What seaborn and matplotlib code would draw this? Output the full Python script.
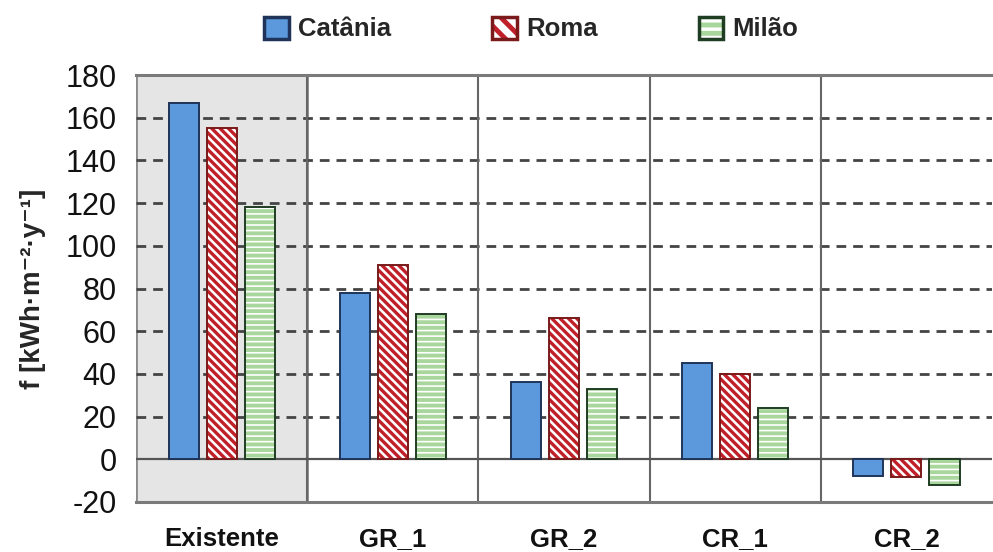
import numpy as np
import pandas as pd
import matplotlib
matplotlib.use("Agg")
import matplotlib.pyplot as plt
import matplotlib.colors as mcolors
from matplotlib.patches import Patch
import seaborn as sns

categories = ["Existente", "GR_1", "GR_2", "CR_1", "CR_2"]
series_names = ["Catânia", "Roma", "Milão"]
catania = [167, 78, 36, 45, -8]
roma = [155, 91, 66, 40, -8.5]
milao = [118, 68, 33, 24, -12]
yticks = [-20, 0, 20, 40, 60, 80, 100, 120, 140, 160, 180]

df = pd.DataFrame({
    "cat": categories * 3,
    "city": [series_names[0]] * 5 + [series_names[1]] * 5 + [series_names[2]] * 5,
    "val": catania + roma + milao,
})

sns.set_theme(style="white")
plt.rcParams["font.family"] = ["Liberation Sans", "DejaVu Sans"]

fig = plt.figure(figsize=(9.93, 5.52), dpi=100)
ax = fig.add_axes([0.137, 0.0906, 0.862, 0.7735])

styles = {
    "Catânia": dict(face="#5b98dc", edge="#1f3458", hatch=None, hc=None, hlw=None),
    "Roma": dict(face="#ffffff", edge="#7a1a1a", hatch="\\\\\\\\", hc="#c0202a", hlw=2.4),
    "Milão": dict(face="#a9d69c", edge="#1f3d22", hatch="---", hc="#ffffff", hlw=1.2),
}

sns.barplot(data=df, x="cat", y="val", hue="city", order=categories,
            hue_order=series_names, width=0.667, gap=0.21, ax=ax,
            legend=False, errorbar=None)


def style_patch(p, st, hlw=None):
    if st["hatch"]:
        p.set_hatch(st["hatch"])
        p._hatch_color = mcolors.to_rgba(st["hc"])
        lw = st["hlw"] if hlw is None else hlw
        if hasattr(p, "set_hatch_linewidth"):
            p.set_hatch_linewidth(lw)
        else:
            p._hatch_linewidth = lw


for cont, name in zip(ax.containers, series_names):
    st = styles[name]
    for p in cont:
        p.set_facecolor(st["face"])
        p.set_edgecolor(st["edge"])
        p.set_linewidth(1.4)
        p.set_zorder(3)
        style_patch(p, st)

ax.set_xlim(-0.5, 4.5)
ax.set_ylim(-20, 180)
ax.set_yticks(yticks)
ax.set_yticklabels([str(t) for t in yticks], fontsize=22, color="#111111")
ax.set_xticks(range(len(categories)))
ax.set_xticklabels(categories, fontsize=18.5, fontweight="bold", color="#111111")
ax.tick_params(axis="both", length=0)
ax.tick_params(axis="y", pad=14)
ax.tick_params(axis="x", pad=18)
ax.set_xlabel("")
ax.set_ylabel("f [kWh·m⁻²·y⁻¹]", fontsize=20, fontweight="bold", labelpad=14)

# gray background for first group
ax.axvspan(-0.5, 0.5, facecolor="#e5e5e5", edgecolor="#8a8a8a", lw=2, zorder=0.2)
for y in yticks[2:-1]:
    ax.axhline(y, color="#444444", lw=2, ls=(0, (3.5, 2.5)), zorder=0.5)
ax.axhline(0, color="#555555", lw=1.6, zorder=2)
for x in [0.5, 1.5, 2.5, 3.5]:
    ax.axvline(x, color="#666666", lw=1.5, zorder=1)

for s in ["left", "right"]:
    ax.spines[s].set_visible(False)
for s in ["top", "bottom"]:
    ax.spines[s].set_visible(True)
    ax.spines[s].set_color("#7a7a7a")
    ax.spines[s].set_linewidth(2.2)

handles = []
for name in series_names:
    st = styles[name]
    h = Patch(facecolor=st["face"], edgecolor=st["edge"], linewidth=2.5,
              hatch=(st["hatch"][:2] if st["hatch"] else None))
    handles.append(h)
leg = fig.legend(handles=handles, labels=series_names, loc="upper center",
                 bbox_to_anchor=(0.535, 1.012), ncol=3, frameon=False,
                 prop=dict(size=18.5, weight="bold"), handlelength=0.95,
                 handleheight=0.95, handletextpad=0.35, columnspacing=3.95)
for h, name in zip(leg.legend_handles, series_names):
    st = styles[name]
    if st["hatch"]:
        h._hatch_color = mcolors.to_rgba(st["hc"])
        lw = 3.5 if name == "Roma" else 2.5
        if hasattr(h, "set_hatch_linewidth"):
            h.set_hatch_linewidth(lw)
        else:
            h._hatch_linewidth = lw

fig.savefig("out.png", dpi=100)
